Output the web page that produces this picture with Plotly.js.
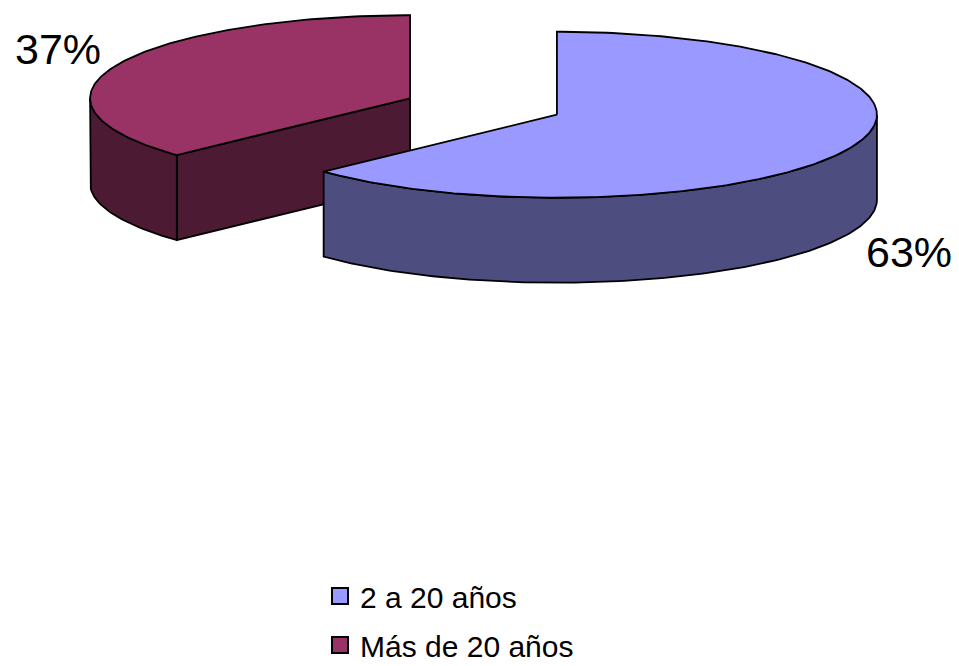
<!DOCTYPE html>
<html>
<head>
<meta charset="utf-8">
<script src="https://cdn.plot.ly/plotly-3.0.1.min.js"></script>
<style>html,body{margin:0;padding:0;background:#fff;overflow:hidden;}#chart{width:959px;height:700px;}</style>
</head>
<body>
<div id="chart"></div>
<script>
// ---- data ----
const categories = ["2 a 20 años", "Más de 20 años"];
const values = [63, 37];
const topColors = ["#9999FF", "#993366"];
const sideColors = ["#4D4D80", "#4D1A33"];

// ---- geometry (layout, in pixel-like axis units) ----
const W = 959, H = 700;          // figure is a bit taller than the 666px window so the legend may sit low
const CX = 483.5, CY = 106.5;   // pie centre before explosion
const RX = 320, RY = 83;        // ellipse radii of top face
const DEPTH = 85;               // height of the cylinder
const PULL = 0.25;              // explosion, fraction of radius
const FONT = "Liberation Sans, Arial, sans-serif";

const total = values.reduce((a, b) => a + b, 0);
const rad = d => d * Math.PI / 180;
function pt(c, th, dy) { return [c[0] + RX * Math.sin(rad(th)), c[1] - RY * Math.cos(rad(th)) + (dy || 0)]; }
function arc(c, a0, a1, dy) {
  const pts = []; const n = Math.max(2, Math.ceil(Math.abs(a1 - a0)));
  for (let i = 0; i <= n; i++) pts.push(pt(c, a0 + (a1 - a0) * i / n, dy));
  return pts;
}

// build slices
let acc = 0;
const slices = values.map((v, i) => {
  const a0 = acc / total * 360; acc += v; const a1 = acc / total * 360;
  const mid = (a0 + a1) / 2;
  const c = [CX + PULL * RX * Math.sin(rad(mid)), CY - PULL * RY * Math.cos(rad(mid))];
  return { i, v, a0, a1, mid, c };
});
// draw back slices first
const order = slices.slice().sort((p, q) => p.c[1] - q.c[1]);

const traces = [];
function poly(pts, fill) {
  const xs = pts.map(p => p[0]), ys = pts.map(p => p[1]);
  xs.push(xs[0]); ys.push(ys[0]);
  traces.push({ type: "scatter", mode: "lines", x: xs, y: ys, fill: "toself", fillcolor: fill,
    line: { color: "#000", width: 1.8 }, hoverinfo: "skip", showlegend: false });
}

order.forEach(s => {
  const side = sideColors[s.i];
  if (Math.sin(rad(s.a0)) < -1e-6) {
    const e = pt(s.c, s.a0);
    poly([s.c, e, [e[0], e[1] + DEPTH], [s.c[0], s.c[1] + DEPTH]], side);
  }
  if (Math.sin(rad(s.a1)) > 1e-6) {
    const e = pt(s.c, s.a1);
    poly([s.c, e, [e[0], e[1] + DEPTH], [s.c[0], s.c[1] + DEPTH]], side);
  }
  const t0 = Math.max(s.a0, 90), t1 = Math.min(s.a1, 270);
  if (t1 > t0) {
    const top = arc(s.c, t0, t1, 0), bot = arc(s.c, t1, t0, DEPTH);
    poly(top.concat(bot), side);
  }
  poly([s.c].concat(arc(s.c, s.a0, s.a1, 0)), topColors[s.i]);
});

// legend entries
categories.forEach((name, i) => {
  traces.push({ type: "scatter", mode: "markers", x: [null], y: [null], name: name,
    legendgroup: "g" + i, showlegend: true, hoverinfo: "skip",
    marker: { symbol: "square", size: 16, color: topColors[i], line: { color: "#000", width: 2 } } });
});

// percentage labels
const annotations = slices.map(s => {
  const sx = Math.sin(rad(s.mid)), cy = Math.cos(rad(s.mid));
  return {
    x: s.c[0] + 1.2 * RX * sx,
    y: s.c[1] - 1.5 * RY * cy + (cy < 0 ? DEPTH + 3 : 0),
    xref: "x", yref: "y", xanchor: "center", yanchor: "middle", showarrow: false,
    text: Math.round(s.v / total * 100) + "%",
    font: { family: FONT, size: 43, color: "#000" }
  };
});

const layout = {
  width: W, height: H,
  margin: { l: 0, r: 0, t: 0, b: 0 },
  paper_bgcolor: "#fff", plot_bgcolor: "#fff",
  xaxis: { range: [0, W], visible: false, fixedrange: true },
  yaxis: { range: [H, 0], visible: false, fixedrange: true },
  showlegend: true,
  legend: { x: 320 / W, xanchor: "left", y: 1 - 570 / H, yanchor: "top",
    traceorder: "grouped", tracegroupgap: 7, bgcolor: "rgba(0,0,0,0)",
    font: { family: FONT, size: 30, color: "#000" } },
  annotations: annotations
};

Plotly.newPlot("chart", traces, layout, { staticPlot: true, displayModeBar: false });
</script>
</body>
</html>
